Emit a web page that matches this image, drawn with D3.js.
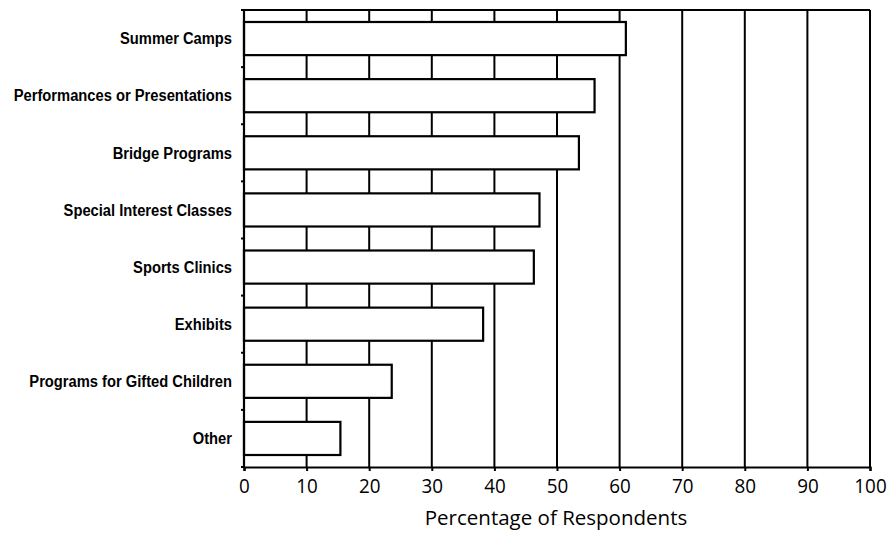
<!DOCTYPE html>
<html><head><meta charset="utf-8">
<script src="https://cdn.jsdelivr.net/npm/d3@7"></script>
<style>body{margin:0;background:#fff}svg{display:block}</style>
</head><body>
<svg id="c" width="890" height="533"></svg>
<script>
const categories = ["Summer Camps","Performances or Presentations","Bridge Programs","Special Interest Classes","Sports Clinics","Exhibits","Programs for Gifted Children","Other"];
const values = [61, 56, 53.5, 47.2, 46.3, 38.2, 23.6, 15.4];
const xTicks = [0,10,20,30,40,50,60,70,80,90,100];
const xTitle = "Percentage of Respondents";

const svg = d3.select("#c");
const L = 244, R = 870, T = 10, B = 467;
const x = d3.scaleLinear().domain([0,100]).range([L,R]);
const y = d3.scaleBand().domain(categories).range([T,B]).paddingInner(0.42).paddingOuter(0.21);

// vertical gridlines
svg.append("g").selectAll("line").data(xTicks).join("line")
  .attr("x1", d=>x(d)).attr("x2", d=>x(d)).attr("y1", T).attr("y2", B)
  .attr("stroke","#000").attr("stroke-width",2);
// top border
svg.append("line").attr("x1",L).attr("x2",R).attr("y1",T).attr("y2",T).attr("stroke","#000").attr("stroke-width",2);

// bars
svg.append("g").selectAll("rect").data(categories).join("rect")
  .attr("x", x(0)).attr("y", d=>y(d))
  .attr("width", (d,i)=>x(values[i])-x(0)).attr("height", y.bandwidth())
  .attr("fill","#fff").attr("stroke","#000").attr("stroke-width",2.2);

// x axis
const xa = svg.append("g").attr("transform",`translate(0,${B})`)
  .call(d3.axisBottom(x).tickValues(xTicks).tickSize(4).tickPadding(7).tickFormat(d3.format("d")));
xa.select(".domain").attr("stroke-width",2.2);
xa.selectAll(".tick line").attr("stroke-width",2);
xa.selectAll("text").attr("font-family","'Open Sans', sans-serif").attr("font-size",20.5).attr("fill","#000")
  .attr("transform","scale(0.92,1)");

// y axis
const bounds = d3.range(categories.length+1).map(i=>T + i*(B-T)/categories.length);
svg.append("line").attr("x1",L).attr("x2",L).attr("y1",T).attr("y2",B).attr("stroke","#000").attr("stroke-width",2.2);
svg.append("g").selectAll("line").data(bounds).join("line")
  .attr("x1",L-3).attr("x2",L).attr("y1",d=>d).attr("y2",d=>d).attr("stroke","#000").attr("stroke-width",2);
svg.append("g").selectAll("text").data(categories).join("text")
  .attr("transform",d=>`translate(232,${y(d)+y.bandwidth()/2}) scale(0.92,1)`).attr("dy","0.36em")
  .attr("text-anchor","end").attr("font-family","'Liberation Sans Narrow', 'Arial Narrow', sans-serif")
  .attr("font-weight","bold").attr("font-size",16).attr("fill","#000").text(d=>d);

svg.append("text").attr("x",(L+R)/2 - 1).attr("y",525).attr("text-anchor","middle")
  .attr("font-family","'Open Sans', sans-serif").attr("font-size",20.5).attr("fill","#000").text(xTitle);
</script>
</body></html>
